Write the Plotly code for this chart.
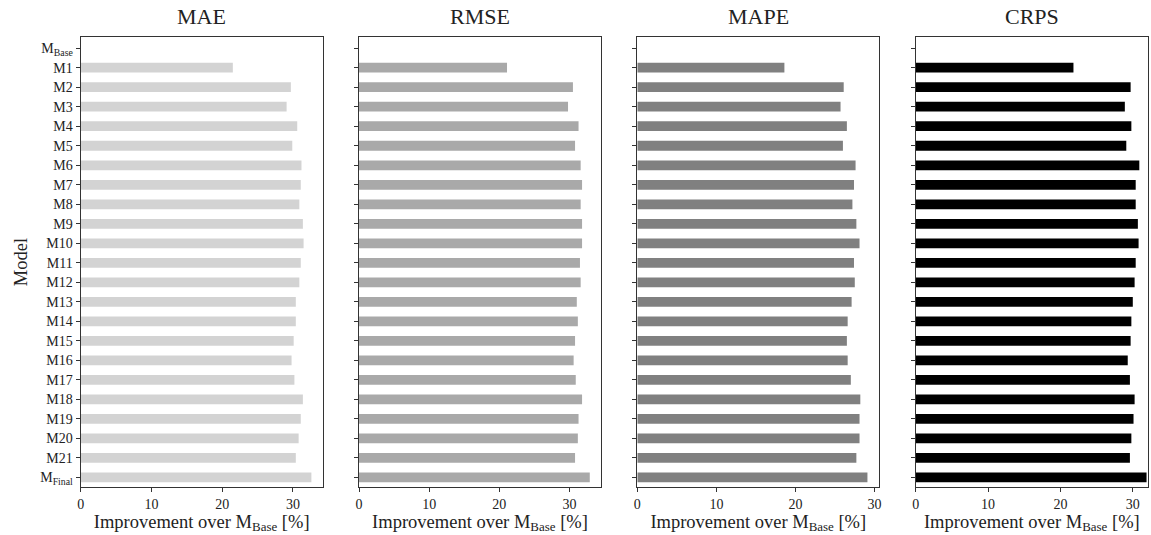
import plotly.graph_objects as go

models = ["M<sub>Base</sub>"] + [f"M{i}" for i in range(1, 22)] + ["M<sub>Final</sub>"]
metrics = ["MAE", "RMSE", "MAPE", "CRPS"]

mae = [0, 21.5, 29.7, 29.1, 30.6, 29.9, 31.2, 31.1, 30.9, 31.4, 31.5, 31.1,
       30.9, 30.4, 30.4, 30.1, 29.8, 30.2, 31.4, 31.1, 30.8, 30.4, 32.6]
rmse = [0, 21.1, 30.5, 29.8, 31.3, 30.8, 31.6, 31.8, 31.6, 31.8, 31.8, 31.5,
        31.6, 31.05, 31.2, 30.8, 30.6, 30.9, 31.8, 31.3, 31.2, 30.8, 32.9]
mape = [0, 18.6, 26.1, 25.7, 26.5, 26.0, 27.6, 27.4, 27.2, 27.7, 28.1, 27.4,
        27.5, 27.1, 26.6, 26.5, 26.6, 27.0, 28.2, 28.1, 28.1, 27.7, 29.1]
crps = [0, 21.8, 29.7, 28.9, 29.8, 29.1, 30.9, 30.4, 30.4, 30.7, 30.8, 30.4,
        30.25, 30.0, 29.8, 29.7, 29.3, 29.6, 30.25, 30.1, 29.8, 29.6, 31.9]

values = [mae, rmse, mape, crps]
colors = ["#d3d3d3", "#a9a9a9", "#808080", "#000000"]
x_ranges = [[0, 34.2], [0, 34.5], [0, 30.6], [0, 32.1]]

W, H = 1151, 535
px_domains = [(80.7, 322.7), (359, 601), (637.3, 879.3), (915.7, 1148)]
y_dom = [1 - 486.7 / H, 1 - 37.3 / H]

font_family = "Liberation Serif"
fig = go.Figure()
ypos = list(range(len(models)))

for i, (name, vals, col) in enumerate(zip(metrics, values, colors)):
    xa = "x" if i == 0 else f"x{i+1}"
    ya = "y" if i == 0 else f"y{i+1}"
    fig.add_trace(go.Bar(
        x=vals, y=ypos, orientation="h", marker=dict(color=col, line=dict(width=0)),
        xaxis=xa, yaxis=ya, showlegend=False, width=0.5,
    ))
    dom = [px_domains[i][0] / W, px_domains[i][1] / W]
    xkey = "xaxis" if i == 0 else f"xaxis{i+1}"
    ykey = "yaxis" if i == 0 else f"yaxis{i+1}"
    yax = dict(
        domain=y_dom, anchor=xa, range=[22.48, -0.56], automargin=False,
        tickvals=ypos, showticklabels=(i == 0),
        ticks="outside", ticklen=4, tickwidth=1, tickcolor="#333",
        showline=True, linecolor="#333", linewidth=1.2, mirror=True,
        showgrid=False, zeroline=False,
        tickfont=dict(family=font_family, size=14, color="#222"),
    )
    if i == 0:
        yax["ticktext"] = models
        yax["title"] = dict(text="Model",
                            font=dict(family=font_family, size=18.5, color="#222"),
                            standoff=7)
    fig.update_layout(**{
        xkey: dict(
            domain=dom, anchor=ya, range=x_ranges[i], automargin=False,
            tickvals=[0, 10, 20, 30], ticks="outside", ticklen=4, tickwidth=1,
            tickcolor="#333", showline=True, linecolor="#333", linewidth=1.2,
            mirror=True, showgrid=False, zeroline=False,
            tickfont=dict(family=font_family, size=14, color="#222"),
            title=dict(text="Improvement over M<sub>Base</sub> [%]",
                       font=dict(family=font_family, size=18.5, color="#222"),
                       standoff=2),
        ),
        ykey: yax,
    })
    fig.add_annotation(
        text=name, x=(dom[0] + dom[1]) / 2, y=1 - 16 / H, xref="paper", yref="paper",
        showarrow=False, font=dict(family=font_family, size=22, color="#222"),
        xanchor="center", yanchor="middle",
    )

fig.update_layout(
    width=W, height=H, margin=dict(l=0, r=0, t=0, b=0),
    plot_bgcolor="white", paper_bgcolor="white",
    bargap=0.5,
)

fig.write_html(
    "out.html",
    config={"displayModeBar": False},
    post_script="document.body.style.margin='0';document.body.style.overflow='hidden';",
)
